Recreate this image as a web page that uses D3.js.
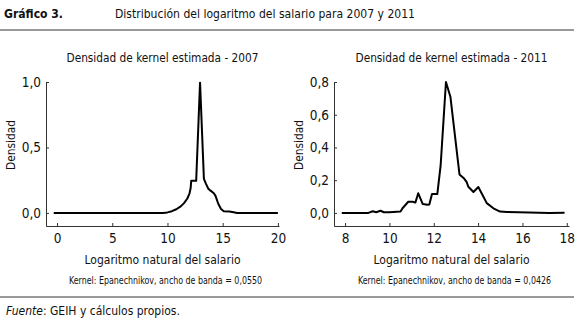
<!DOCTYPE html>
<html>
<head>
<meta charset="utf-8">
<script src="https://cdn.jsdelivr.net/npm/d3@7"></script>
<style>
  body { margin: 0; background: #fff; }
  svg text { font-family: "Liberation Sans Narrow", "DejaVu Sans Condensed", Lato, sans-serif; fill: #111; }
</style>
</head>
<body>
<svg id="chart" width="580" height="326"></svg>
<script>
// log wage (x) and estimated density (y)
const logWage2007 = [-0.3, 9.6, 10.0, 10.4, 10.8, 11.2, 11.5, 11.8, 12.0, 12.1, 12.15, 12.6, 12.95, 13.3, 13.5, 13.7, 13.9, 14.2, 14.35, 14.6, 14.85, 15.1, 15.6, 16.0, 16.3, 20.0];
const density2007 = [0, 0, 0.004, 0.013, 0.028, 0.05, 0.075, 0.11, 0.15, 0.19, 0.245, 0.245, 0.995, 0.26, 0.22, 0.185, 0.17, 0.15, 0.13, 0.07, 0.03, 0.012, 0.01, 0.005, 0, 0];

const logWage2011 = [7.85, 9.05, 9.25, 9.4, 9.6, 9.75, 10.0, 10.5, 10.6, 10.85, 11.05, 11.17, 11.3, 11.5, 11.72, 11.8, 11.92, 12.16, 12.31, 12.55, 12.75, 13.16, 13.37, 13.48, 13.56, 13.79, 14.01, 14.2, 14.39, 14.69, 14.99, 15.3, 16.3, 17.2, 17.9];
const density2011 = [0, 0, 0.01, 0.004, 0.013, 0.004, 0.004, 0.008, 0.03, 0.068, 0.068, 0.063, 0.12, 0.055, 0.05, 0.052, 0.115, 0.115, 0.29, 0.8, 0.71, 0.235, 0.21, 0.19, 0.16, 0.128, 0.158, 0.11, 0.06, 0.028, 0.008, 0.006, 0.002, 0, 0.001];

const xTicks2007 = [0, 5, 10, 15, 20];
const yTicks2007 = [0, 0.5, 1.0];
const xTicks2011 = [8, 10, 12, 14, 16, 18];
const yTicks2011 = [0, 0.2, 0.4, 0.6, 0.8];

const svg = d3.select('#chart');
const comma = v => d3.format('.1f')(v).replace('.', ',');

// shrink the font part of the way to the wanted width, squeeze the rest
function fit(text, size, target) {
  text.attr('font-size', size);
  const w = text.node().getComputedTextLength();
  if (w > target) {
    const s = size * (1 + target / w) / 2;
    text.attr('font-size', s);
    text.attr('textLength', target).attr('lengthAdjust', 'spacingAndGlyphs');
  }
  return text;
}

// header
fit(svg.append('text').attr('x', 4).attr('y', 18)
  .attr('font-weight', 'bold').text('Gráfico 3.'), 14, 59);
fit(svg.append('text').attr('x', 115).attr('y', 18)
  .text('Distribución del logaritmo del salario para 2007 y 2011'), 14, 300);
svg.append('line').attr('x1', 0).attr('x2', 574).attr('y1', 30).attr('y2', 30)
  .attr('stroke', '#777').attr('stroke-width', 1.5);
svg.append('line').attr('x1', 0).attr('x2', 574).attr('y1', 297).attr('y2', 297)
  .attr('stroke', '#777').attr('stroke-width', 1.5);

const fuente = svg.append('text').attr('x', 6).attr('y', 315).attr('font-size', 12);
fuente.append('tspan').attr('font-style', 'italic').text('Fuente');
fuente.append('tspan').text(': GEIH y cálculos propios.');

function drawPanel(opts) {
  const x = d3.scaleLinear().domain(opts.xDomain).range(opts.xRange);
  const y = d3.scaleLinear().domain(opts.yDomain).range([226, 82]);
  const g = svg.append('g');
  const cx = (opts.xRange[0] + opts.xRange[1]) / 2;

  fit(g.append('text').attr('x', cx).attr('y', 62).attr('text-anchor', 'middle')
    .text(opts.title), 14, 192);

  const xAxis = g.append('g').attr('transform', 'translate(0,226)')
    .call(d3.axisBottom(x).tickValues(opts.xTicks).tickSize(-3).tickSizeOuter(0).tickPadding(7).tickFormat(d3.format('d')));
  const yAxis = g.append('g').attr('transform', `translate(${opts.xRange[0]},0)`)
    .call(d3.axisLeft(y).tickValues(opts.yTicks).tickSize(-3).tickSizeOuter(0).tickPadding(5).tickFormat(comma));
  [xAxis, yAxis].forEach(a => {
    a.selectAll('path, line').attr('stroke', '#333');
    a.selectAll('text').attr('font-size', 13.5).attr('fill', '#111')
      .style('font-family', '"Liberation Sans Narrow", "DejaVu Sans Condensed", Lato, sans-serif');
  });

  fit(g.append('text')
    .attr('transform', `translate(${opts.xRange[0] - 31},145) rotate(-90)`)
    .attr('text-anchor', 'middle')
    .text('Densidad'), 14, 50);

  fit(g.append('text').attr('x', cx).attr('y', 264).attr('text-anchor', 'middle')
    .text('Logaritmo natural del salario'), 14, 156);

  fit(g.append('text').attr('x', cx + 3).attr('y', 284).attr('text-anchor', 'middle')
    .text(opts.note), 10.5, 193);

  const pts = opts.xs.map((v, i) => [v, opts.ys[i]]);
  g.append('path').datum(pts)
    .attr('fill', 'none').attr('stroke', '#000').attr('stroke-width', 2)
    .attr('stroke-linejoin', 'round')
    .attr('d', d3.line().x(d => x(d[0])).y(d => y(d[1])));
}

drawPanel({
  title: 'Densidad de kernel estimada - 2007',
  note: 'Kernel: Epanechnikov, ancho de banda = 0,0550',
  xDomain: [-1, 20.1], xRange: [46, 279],
  yDomain: [-0.1, 1.0],
  xTicks: xTicks2007, yTicks: yTicks2007,
  xs: logWage2007, ys: density2007
});

drawPanel({
  title: 'Densidad de kernel estimada - 2011',
  note: 'Kernel: Epanechnikov, ancho de banda = 0,0426',
  xDomain: [7.5, 18.1], xRange: [334, 569],
  yDomain: [-0.08, 0.8],
  xTicks: xTicks2011, yTicks: yTicks2011,
  xs: logWage2011, ys: density2011
});
</script>
</body>
</html>
